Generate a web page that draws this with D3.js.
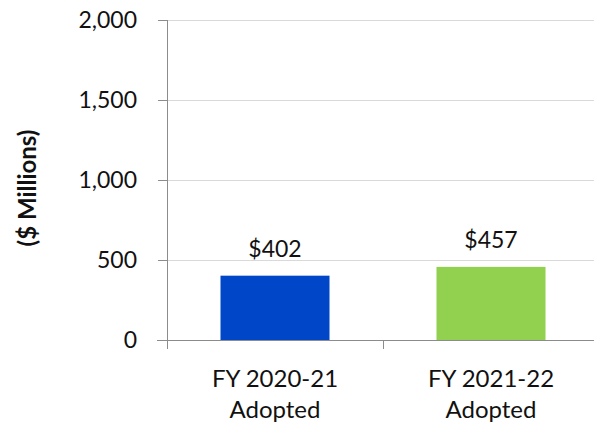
<!DOCTYPE html>
<html><head><meta charset="utf-8">
<script src="https://cdn.jsdelivr.net/npm/d3@7"></script>
<style>body{margin:0;background:#fff}svg{display:block}</style>
</head><body>
<svg id="c" width="594" height="428"></svg>
<script>
const categories = [["FY 2020-21","Adopted"],["FY 2021-22","Adopted"]];
const values = [402, 457];
const barLabels = ["$402", "$457"];
const barColors = ["#0046C8", "#92D050"];
const yTicks = [0, 500, 1000, 1500, 2000];
const yTitle = "($ Millions)";

const svg = d3.select("#c");
const font = "Lato, 'Open Sans', sans-serif";
const x0 = 167, bandW = 216;
const x = d3.scaleBand().domain(categories.map((d,i)=>i)).range([x0, x0 + bandW*2]).paddingInner(0).paddingOuter(0);
const y = d3.scaleLinear().domain([0, 2000]).range([340, 20]);

// gridlines
svg.append("g").selectAll("line").data(yTicks.filter(t=>t>0)).join("line")
  .attr("x1", x0).attr("x2", 594).attr("y1", d=>y(d)).attr("y2", d=>y(d))
  .attr("stroke", "#d9d9d9").attr("stroke-width", 1).attr("shape-rendering","crispEdges");

// y axis
const yAxis = svg.append("g").attr("transform", `translate(${x0},0)`)
  .call(d3.axisLeft(y).tickValues(yTicks).tickSize(9).tickPadding(21).tickFormat(d3.format(",")));
yAxis.selectAll("line,path").attr("stroke", "#8c8c8c").attr("shape-rendering","crispEdges");
yAxis.selectAll("text").attr("font-family", font).attr("font-size", 23).attr("fill", "#111");

// bars
const bw = 109;
svg.append("g").selectAll("rect").data(values).join("rect")
  .attr("x", (d,i)=> x(i) + x.bandwidth()/2 - bw/2)
  .attr("width", bw)
  .attr("y", d=>y(d)).attr("height", d=>y(0)-y(d))
  .attr("fill", (d,i)=>barColors[i]);

// x axis
svg.append("line").attr("x1", 157).attr("x2", 594).attr("y1", y(0)).attr("y2", y(0))
  .attr("stroke", "#8c8c8c").attr("shape-rendering","crispEdges");
svg.append("g").selectAll("line").data([0,1,2]).join("line")
  .attr("x1", i=> x0 + i*bandW).attr("x2", i=> x0 + i*bandW)
  .attr("y1", y(0)).attr("y2", y(0)+9)
  .attr("stroke", "#8c8c8c").attr("shape-rendering","crispEdges");

// bar labels
svg.append("g").selectAll("text").data(values).join("text")
  .attr("x", (d,i)=> x(i) + x.bandwidth()/2)
  .attr("y", d=> y(d) - 19)
  .attr("text-anchor","middle").attr("font-family", font).attr("font-size", 23).attr("fill","#111")
  .text((d,i)=>barLabels[i]);

// category labels
const cl = svg.append("g").selectAll("text").data(categories).join("text")
  .attr("x", (d,i)=> x(i) + x.bandwidth()/2)
  .attr("text-anchor","middle").attr("font-family", font).attr("font-size", 24).attr("fill","#111");
cl.each(function(d,i){
  const t = d3.select(this);
  d.forEach((line,j)=> t.append("tspan").attr("x", x(i)+x.bandwidth()/2).attr("y", 387 + j*31).text(line));
});

// y title
svg.append("text").attr("transform","translate(36,188) rotate(-90)")
  .attr("text-anchor","middle").attr("font-family", font).attr("font-weight","bold")
  .attr("font-size", 24).attr("fill","#111").text(yTitle);
</script>
</body></html>
